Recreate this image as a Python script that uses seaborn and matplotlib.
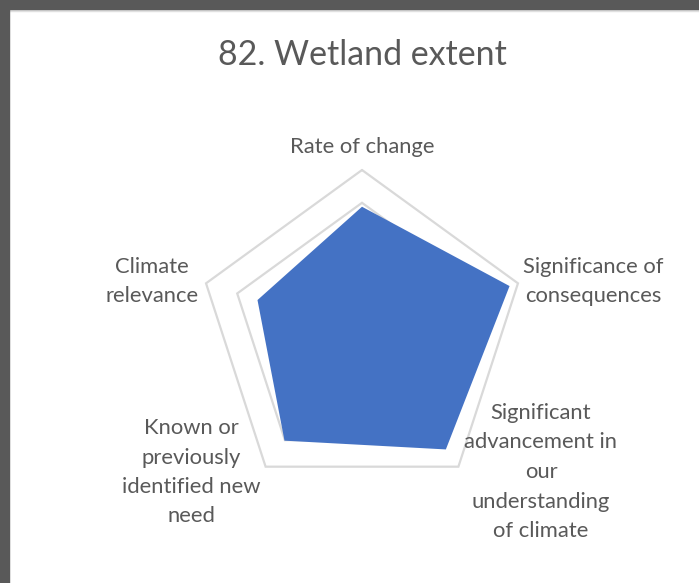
import numpy as np
import matplotlib
matplotlib.use("Agg")
import matplotlib.pyplot as plt
import seaborn as sns
from matplotlib.patches import Rectangle

# chart data (scale 0-5)
categories = ["Rate of change", "Significance of consequences",
              "Significant advancement in our understanding of climate",
              "Known or previously identified new need", "Climate relevance"]
scores = [3.88, 4.73, 4.35, 4.02, 3.35]
grid_levels = [4, 5]
axis_max = 5

# wrapped label text as shown in the chart
label_lines = [["Rate of change"],
               ["Significance of", "consequences"],
               ["Significant", "advancement in", "our", "understanding", "of climate"],
               ["Known or", "previously", "identified new", "need"],
               ["Climate", "relevance"]]
# label anchor (pixel centre of first line)
label_pos = [(362, 147), (593, 267), (541, 413), (191, 428), (152, 267)]

sns.set_theme(style="white")
plt.rcParams['font.family'] = ['Lato', 'DejaVu Sans']

W, H = 699, 583
fig = plt.figure(figsize=(W / 100, H / 100), dpi=100)
fig.patch.set_facecolor("white")

# axes placed so the outer ring is centred at (362, 334) px with radius 164 px
ppu = 164 / axis_max
half = 6.5
side = 2 * half * ppu
cx, cy = 362, 334
ax = fig.add_axes([(cx - side / 2) / W, (H - cy - side / 2) / H, side / W, side / H])
ax.set_xlim(-half, half)
ax.set_ylim(-half, half)
ax.set_aspect("equal")
ax.axis("off")

n = len(categories)
angles = np.pi / 2 - 2 * np.pi * np.arange(n) / n
closed = np.append(angles, angles[0])

for lvl in grid_levels:
    ax.plot(lvl * np.cos(closed), lvl * np.sin(closed), color="#D9D9D9",
            linewidth=1.6, zorder=1, solid_joinstyle="miter")

vals = np.append(scores, scores[0])
ax.fill(vals * np.cos(closed), vals * np.sin(closed), color="#4472C4", zorder=2, linewidth=0)

txt = "#595959"
fig.text(cx / W, 1 - 55 / H, "82. Wetland extent", ha="center", va="center",
         fontsize=24.4, color=txt)

line_h = 29.5
for lines, (px, py) in zip(label_lines, label_pos):
    for i, s in enumerate(lines):
        fig.text(px / W, 1 - (py + i * line_h) / H, s, ha="center", va="center",
                 fontsize=15.8, color=txt)

# dark frame on the top and left edges
fig.patches.append(Rectangle((0, 1 - 9 / H), 1, 9 / H, transform=fig.transFigure,
                             color="#595959", zorder=10))
fig.patches.append(Rectangle((0, 0), 9 / W, 1, transform=fig.transFigure,
                             color="#595959", zorder=10))
fig.patches.append(Rectangle((9 / W, 1 - 11 / H), 1, 2 / H, transform=fig.transFigure,
                             color="#E0E0E0", zorder=9))

fig.savefig("out.png", dpi=100)
